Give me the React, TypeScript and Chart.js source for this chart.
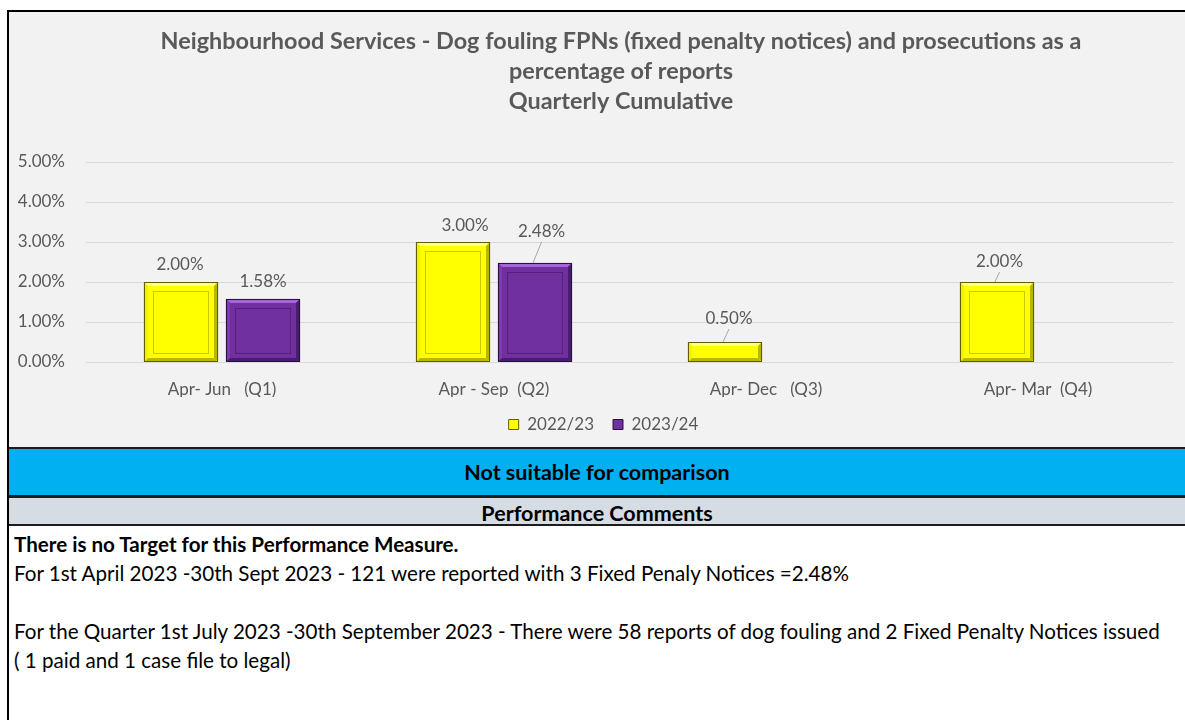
import React, { useEffect, useRef } from "react";
import { Chart, registerables } from "chart.js";

Chart.register(...registerables);

// ---------- data ----------
const categories = ["Apr- Jun   (Q1)", "Apr - Sep  (Q2)", "Apr- Dec   (Q3)", "Apr- Mar  (Q4)"];
const seriesNames = ["2022/23", "2023/24"];
const values2022 = [2.0, 3.0, 0.5, 2.0];
const values2023: (number | null)[] = [1.58, 2.48, null, null];
const yTickValues = [0, 1, 2, 3, 4, 5];
const titleLines = [
  "Neighbourhood Services - Dog fouling FPNs (fixed penalty notices) and prosecutions as a",
  "percentage of reports",
  "Quarterly Cumulative",
];
const bandText = "Not suitable for comparison";
const commentsHeader = "Performance Comments";
const commentLines = [
  "There is no Target for this Performance Measure.",
  "For 1st April 2023 -30th Sept 2023 - 121 were reported with 3 Fixed Penaly Notices =2.48%",
  "",
  "For the Quarter 1st July 2023 -30th September 2023 - There were 58 reports of dog fouling and 2 Fixed Penalty Notices issued",
  "( 1 paid and 1 case file to legal)",
];

// ---------- styling ----------
const FONT = "Lato, 'Open Sans', sans-serif";
const TEXT_GREY = "#595959";
const BAR_STYLES = [
  { fill: "#ffff00", light: "#ffff8c", mid: "#f2f200", dark: "#b8b800", edge: "#5e5e00", inner: "#c9c900" },
  { fill: "#7030a0", light: "#a466d6", mid: "#7d3ab0", dark: "#4a1c6e", edge: "#2a0f40", inner: "#54207c" },
];
// label offsets (dx, dy) from bar top-centre, per dataset / category
const LABEL_OFFSETS: ([number, number] | null)[][] = [
  [[-1, -17], [12, -16], [4, -23], [2.5, -20]],
  [[0, -17], [6.5, -31], null, null],
];

const bevelPlugin = {
  id: "bevelBars",
  afterDatasetsDraw(chart: any) {
    const ctx = chart.ctx as CanvasRenderingContext2D;
    ctx.save();
    chart.data.datasets.forEach((ds: any, di: number) => {
      const meta = chart.getDatasetMeta(di);
      const st = BAR_STYLES[di];
      meta.data.forEach((bar: any, i: number) => {
        const v = ds.data[i];
        if (v == null) return;
        const p = bar.getProps(["x", "y", "base", "width"], true);
        const l = Math.round(p.x - p.width / 2);
        const r = Math.round(p.x + p.width / 2);
        const t = Math.round(p.y);
        const b = Math.round(p.base);
        const w = r - l;
        const h = b - t;
        const bv = 4;
        ctx.fillStyle = st.fill;
        ctx.fillRect(l, t, w, h);
        // top
        ctx.fillStyle = st.light;
        ctx.beginPath();
        ctx.moveTo(l, t); ctx.lineTo(r, t); ctx.lineTo(r - bv, t + bv); ctx.lineTo(l + bv, t + bv); ctx.closePath(); ctx.fill();
        // left
        ctx.fillStyle = st.mid;
        ctx.beginPath();
        ctx.moveTo(l, t); ctx.lineTo(l + bv, t + bv); ctx.lineTo(l + bv, b - bv); ctx.lineTo(l, b); ctx.closePath(); ctx.fill();
        // right
        ctx.fillStyle = st.dark;
        ctx.beginPath();
        ctx.moveTo(r, t); ctx.lineTo(r, b); ctx.lineTo(r - bv, b - bv); ctx.lineTo(r - bv, t + bv); ctx.closePath(); ctx.fill();
        // bottom
        ctx.beginPath();
        ctx.moveTo(l, b); ctx.lineTo(r, b); ctx.lineTo(r - bv, b - bv); ctx.lineTo(l + bv, b - bv); ctx.closePath(); ctx.fill();
        // inner line
        if (h > 30) {
          ctx.strokeStyle = st.inner;
          ctx.lineWidth = 1;
          ctx.strokeRect(l + 9.5, t + 9.5, w - 19, h - 18);
        }
        // outer edge
        ctx.strokeStyle = st.edge;
        ctx.lineWidth = 1;
        ctx.strokeRect(l + 0.5, t + 0.5, w - 1, h - 1);

        // data label
        const off = LABEL_OFFSETS[di][i] || [0, -17];
        const lx = p.x + off[0];
        const ly = t + off[1];
        if (off[1] <= -20) {
          ctx.strokeStyle = "#a6a6a6";
          ctx.lineWidth = 1;
          ctx.beginPath();
          ctx.moveTo(p.x - 2, t);
          ctx.lineTo(lx, ly + 10);
          ctx.stroke();
        }
        ctx.fillStyle = TEXT_GREY;
        ctx.font = `17px ${FONT}`;
        ctx.textAlign = "center";
        ctx.textBaseline = "middle";
        ctx.fillText(Number(v).toFixed(2) + "%", lx, ly);
      });
    });
    ctx.restore();
  },
};

const shiftPlugin = {
  id: "shiftBoxes",
  afterLayout(chart: any) {
    const t = chart.titleBlock;
    if (t) t.left += 59;
    const lg = chart.legend;
    if (lg) lg.left += 24;
  },
};

function ChartBlock() {
  const ref = useRef<HTMLCanvasElement | null>(null);
  useEffect(() => {
    if (!ref.current) return;
    const chart = new Chart(ref.current, {
      type: "bar",
      data: {
        labels: categories,
        datasets: [
          {
            label: seriesNames[0],
            data: values2022,
            backgroundColor: BAR_STYLES[0].fill,
            borderColor: BAR_STYLES[0].edge,
            borderWidth: 1,
            categoryPercentage: 0.603,
            barPercentage: 0.91,
          },
          {
            label: seriesNames[1],
            data: values2023,
            backgroundColor: BAR_STYLES[1].fill,
            borderColor: BAR_STYLES[1].edge,
            borderWidth: 1,
            categoryPercentage: 0.603,
            barPercentage: 0.91,
          },
        ],
      },
      options: {
        responsive: false,
        animation: false,
        layout: { padding: { left: 0, right: 11, top: 0, bottom: 4 } },
        plugins: {
          title: {
            display: true,
            text: titleLines,
            color: TEXT_GREY,
            font: { family: FONT, size: 23.4, weight: "bold", lineHeight: 30 / 23.4 },
            padding: { top: 14, bottom: 46 },
          },
          legend: {
            position: "bottom",
            labels: {
              color: TEXT_GREY,
              font: { family: FONT, size: 17 },
              boxWidth: 10,
              boxHeight: 10,
              padding: 19,
            },
          },
          tooltip: { enabled: false },
        },
        scales: {
          x: {
            grid: { display: false, drawTicks: false },
            border: { display: false },
            ticks: { color: TEXT_GREY, font: { family: FONT, size: 17 }, padding: 17, maxRotation: 0 },
            afterFit: (s: any) => { s.height = 35; },
          },
          y: {
            min: 0,
            max: 5,
            afterBuildTicks: (s: any) => { s.ticks = yTickValues.map((v) => ({ value: v })); },
            grid: { color: "#d9d9d9", lineWidth: 1, drawTicks: false },
            border: { display: false },
            ticks: {
              color: TEXT_GREY,
              font: { family: FONT, size: 17 },
              padding: 21,
              callback: (v: any) => Number(v).toFixed(2) + "%",
            },
            afterFit: (s: any) => { s.width = 77; },
          },
        },
      },
      plugins: [bevelPlugin, shiftPlugin],
    });
    return () => chart.destroy();
  }, []);
  return <canvas ref={ref} width={1176} height={435} style={{ display: "block" }} />;
}

export default function App() {
  const sep = "#1c1c1c";
  return (
    <div
      style={{
        position: "absolute",
        top: 10,
        left: 7,
        width: 1176,
        height: 708,
        borderLeft: "2px solid #000",
        borderTop: "2px solid #000",
        fontFamily: FONT,
        color: "#000",
        overflow: "hidden",
        background: "#fff",
      }}
    >
      <div style={{ height: 435, background: "#f2f2f2" }}>
        <ChartBlock />
      </div>
      <div
        style={{
          height: 45,
          background: "#00b0f0",
          borderTop: `2px solid ${sep}`,
          borderBottom: `3px solid ${sep}`,
          display: "flex",
          alignItems: "center",
          justifyContent: "center",
          fontWeight: 700,
          fontSize: 21.5,
          paddingBottom: 1,
          boxSizing: "content-box",
        }}
      >
        {bandText}
      </div>
      <div
        style={{
          height: 28,
          background: "#d6dce4",
          borderBottom: `2px solid ${sep}`,
          display: "flex",
          alignItems: "center",
          justifyContent: "center",
          fontWeight: 700,
          fontSize: 21.5,
          paddingTop: 3,
          boxSizing: "border-box",
        }}
      >
        {commentsHeader}
      </div>
      <div style={{ padding: "4px 0 0 5px", fontSize: 20.6, lineHeight: "29px" }}>
        {commentLines.map((line, i) => (
          <div key={i} style={{ fontWeight: i === 0 ? 700 : 400, whiteSpace: "pre", height: 29 }}>
            {line}
          </div>
        ))}
      </div>
    </div>
  );
}
